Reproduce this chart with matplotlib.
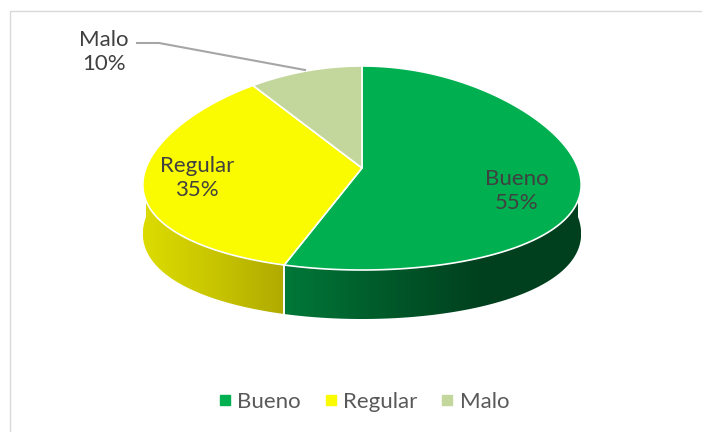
import numpy as np
import matplotlib.pyplot as plt
from matplotlib.patches import Polygon, Rectangle
from matplotlib.lines import Line2D
from matplotlib.colors import LinearSegmentedColormap

plt.rcParams['font.family'] = ['Lato', 'DejaVu Sans']

labels = ['Bueno', 'Regular', 'Malo']
values = [55, 35, 10]
colors = ['#00B050', '#FAFA00', '#C3D69B']
# side shading stops (left -> right) for each slice
side_colors = [['#007838', '#005a2a', '#00401E', '#00401E'],
               ['#DCDC00', '#C8C500', '#B0AA00'],
               ['#9AAA78', '#7E8C60']]

# pie geometry in pixel coordinates
cx, cy = 362, 168
rx, ry = 216, 102
depth = 49
persp = 0.174  # far side narrower than near side


def pt(theta, dy=0.0):
    t = np.radians(theta)
    u, v = np.cos(t), np.sin(t)
    return cx + rx * u * (1 - persp * v), cy - ry * v + dy


fig = plt.figure(figsize=(7.02, 4.32), dpi=100)
ax = fig.add_axes([0, 0, 1, 1])
ax.axis('off')

ax.add_patch(Rectangle((10, 11), 720, 440, fill=False, edgecolor='#D9D9D9', lw=1))

# angles: start at 12 o'clock, clockwise
fracs = np.array(values) / sum(values) * 360
starts = 90 - np.concatenate([[0], np.cumsum(fracs)[:-1]])
ends = starts - fracs

# side walls (front half only)
for i in range(len(values)):
    a, b = ends[i], starts[i]
    for off in (0, -360, 360):
        lo, hi = max(a + off, -180), min(b + off, 0)
        if hi <= lo:
            continue
        th = np.linspace(lo, hi, 200)
        tx, ty = pt(th)
        bx, by = pt(th[::-1], depth)
        verts = list(zip(tx, ty)) + list(zip(bx, by))
        poly = Polygon(verts, closed=True, facecolor='none', edgecolor='none')
        ax.add_patch(poly)
        cmap = LinearSegmentedColormap.from_list('side%d' % i, side_colors[i])
        grad = np.linspace(0, 1, 256).reshape(1, -1)
        x0, x1 = min(tx.min(), bx.min()), max(tx.max(), bx.max())
        y0, y1 = min(ty.min(), by.min()), max(ty.max(), by.max())
        im = ax.imshow(grad, cmap=cmap, extent=[x0, x1, y1, y0], aspect='auto',
                       interpolation='bilinear')
        im.set_clip_path(poly)
        for e in (lo, hi):
            if -180 < e < 0:
                p, q = pt(e), pt(e, depth)
                ax.plot([p[0], q[0]], [p[1], q[1]], color='white', lw=1.2)

# top faces
for i in range(len(values)):
    th = np.linspace(starts[i], ends[i], 200)
    xs, ys = pt(th)
    verts = [(cx, cy)] + list(zip(xs, ys))
    ax.add_patch(Polygon(verts, closed=True, facecolor=colors[i],
                         edgecolor='white', lw=1.2, joinstyle='round'))

# data labels
txt = '#404040'
lab_pos = {0: (517, 191), 1: (197, 178), 2: (104, 52)}
for i, (xl, yl) in lab_pos.items():
    ax.text(xl, yl, f'{labels[i]}\n{values[i]}%', ha='center', va='center',
            fontsize=16, color=txt, linespacing=1.3)
ax.plot([137, 159, 305], [43, 43, 70], color='#A6A6A6', lw=1.5)

handles = [Line2D([], [], marker='s', linestyle='none', markersize=7,
                  markerfacecolor=c, markeredgecolor=c) for c in colors]
ax.legend(handles, labels, loc='center', bbox_to_anchor=(362 / 702, 1 - 402 / 432),
          ncol=3, frameon=False, fontsize=16, labelcolor='#595959',
          handletextpad=0.1, columnspacing=0.9, handlelength=0.9)

ax.set_xlim(0, 702)
ax.set_ylim(432, 0)
fig.savefig('out.png', dpi=100)
